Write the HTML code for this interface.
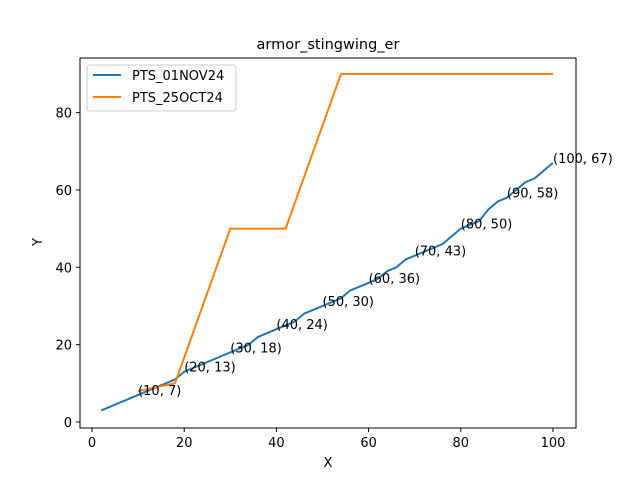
<!DOCTYPE html>
<html><head><meta charset="utf-8"><style>
body{margin:0;background:#fff}
svg text{font-family:"DejaVu Sans","Liberation Sans",sans-serif;fill:#000}
</style></head><body>
<svg id="c" width="640" height="480" xmlns="http://www.w3.org/2000/svg">
<rect width="640" height="480" fill="#fff"/>
<text x="328" y="49" font-size="14.5" text-anchor="middle">armor_stingwing_er</text>
<g id="plot"></g>
<rect x="80" y="58" width="496" height="370" fill="none" stroke="#000" stroke-width="1"/>
<text x="328" y="467" font-size="13" text-anchor="middle">X</text>
<text x="0" y="0" font-size="13" text-anchor="middle" transform="translate(42,242) rotate(-90)">Y</text>
<g>
<rect x="87" y="65" width="149" height="46" rx="3" fill="#fff" stroke="#ccc"/>
<line x1="93" y1="75" x2="121" y2="75" stroke="#1f77b4" stroke-width="2"/>
<text x="132" y="80" font-size="13">PTS_01NOV24</text>
<line x1="93" y1="97" x2="121" y2="97" stroke="#ff7f0e" stroke-width="2"/>
<text x="132" y="102" font-size="13">PTS_25OCT24</text>
</g>
</svg>
<script>
const blueX=[2,4,6,8,10,12,14,16,18,20,22,24,26,28,30,32,34,36,38,40,42,44,46,48,50,52,54,56,58,60,62,64,66,68,70,72,74,76,78,80,82,84,86,88,90,92,94,96,98,100];
const blueY=[3,4,5,6,7,8,9,10,11,13,14,15,16,17,18,19,20,22,23,24,25,26,28,29,30,31,32,34,35,36,37,39,40,42,43,44,45,46,48,50,51,52,55,57,58,60,62,63,65,67];
const orangeX=[10,18,30,42,54,100];
const orangeY=[8,10,50,50,90,90];
const xTicks=[0,20,40,60,80,100];
const yTicks=[0,20,40,60,80];
const annX=[10,20,30,40,50,60,70,80,90,100];
const annY=[7,13,18,24,30,36,43,50,58,67];
const NS="http://www.w3.org/2000/svg";
const sx=v=>92+v*4.61;
const sy=v=>422-v*3.867;
const g=document.getElementById('plot');
function mk(t,a){const e=document.createElementNS(NS,t);for(const k in a)e.setAttribute(k,a[k]);g.appendChild(e);return e;}
xTicks.forEach(v=>{
  const l=mk('line',{x1:sx(v),x2:sx(v),y1:428,y2:432,stroke:'#000'});
  
  
  const t=mk('text',{x:sx(v),y:447,'font-size':13,'text-anchor':'middle'});t.textContent=v;
  
  
});
yTicks.forEach(v=>{
  const l=mk('line',{x1:76,x2:80,y1:sy(v),y2:sy(v),stroke:'#000'});
  
  
  const t=mk('text',{x:72,y:sy(v)+5,'font-size':13,'text-anchor':'end'});t.textContent=v;
  
  
});
function line(xs,ys,c,n){
  const p=mk('polyline',{points:xs.map((x,i)=>sx(x)+','+sy(ys[i])).join(' '),fill:'none',stroke:c,'stroke-width':2,'stroke-linejoin':'round'});
  
  
}
line(blueX,blueY,'#1f77b4','series-pts-01nov24');
line(orangeX,orangeY,'#ff7f0e','series-pts-25oct24');
annX.forEach((x,i)=>{
  const t=mk('text',{x:sx(x),y:sy(annY[i]),'font-size':13});
  t.textContent='('+x+', '+annY[i]+')';
  
  
});
</script>
</body></html>
